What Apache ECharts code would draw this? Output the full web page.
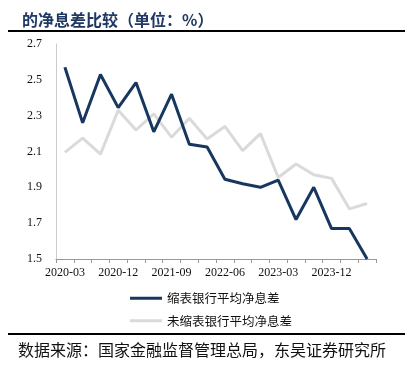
<!DOCTYPE html>
<html><head><meta charset="utf-8">
<script src="https://cdn.jsdelivr.net/npm/echarts@6/dist/echarts.min.js"></script>
<style>html,body{margin:0;padding:0;background:#fff}#c{width:410px;height:376px}</style>
</head><body><div id="c"></div>
<script>
const categories = ['2020-03','2020-06','2020-09','2020-12','2021-03','2021-06','2021-09','2021-12','2022-03','2022-06','2022-09','2022-12','2023-03','2023-06','2023-09','2023-12','2024-03','2024-06'];
const shrinkNIM = [2.57,2.26,2.53,2.345,2.485,2.21,2.42,2.14,2.125,1.945,1.92,1.90,1.94,1.72,1.90,1.67,1.67,1.50];
const nonShrinkNIM = [2.095,2.175,2.085,2.33,2.22,2.31,2.18,2.285,2.17,2.24,2.105,2.20,1.955,2.03,1.97,1.95,1.78,1.81];
const seriesNames = ['缩表银行平均净息差','未缩表银行平均净息差'];
const yTicks = {min:1.5,max:2.7,interval:0.2};

const chart = echarts.init(document.getElementById('c'));
const serif = '"Liberation Serif","DejaVu Serif",serif';
chart.setOption({
  animation:false,
  title:{text:'的净息差比较（单位：%）',left:17,top:7,textStyle:{fontSize:16,fontWeight:'bold',color:'#1f3864',fontFamily:'"Noto Sans CJK SC"'}},
  graphic:[
    {type:'line',shape:{x1:8,y1:31,x2:405,y2:31},style:{stroke:'#000',lineWidth:2}},
    {type:'line',shape:{x1:8,y1:334,x2:405,y2:334},style:{stroke:'#000',lineWidth:2}},
    {type:'text',left:18,top:342,style:{text:'数据来源：国家金融监督管理总局，东吴证券研究所',fontSize:16,fill:'#111',fontFamily:'"Noto Sans CJK SC"'}}
  ],
  grid:{left:56,right:34,top:44,bottom:117},
  legend:{orient:'vertical',left:125,top:287,itemGap:10,itemWidth:32,itemHeight:3,icon:'rect',
    textStyle:{fontSize:12.5,color:'#111',fontFamily:'"Noto Sans CJK SC"'},data:seriesNames},
  xAxis:{type:'category',data:categories,boundaryGap:true,
    axisLine:{lineStyle:{color:'#999',width:1}},
    axisTick:{show:true,interval:0,length:4,lineStyle:{color:'#999'}},
    axisLabel:{interval:2,color:'#111',fontSize:12,fontFamily:serif,margin:8}},
  yAxis:{type:'value',min:yTicks.min,max:yTicks.max,interval:yTicks.interval,
    axisLine:{show:true,lineStyle:{color:'#ccc',width:1}},axisTick:{show:false},splitLine:{show:false},
    axisLabel:{color:'#111',fontSize:12,fontFamily:serif,margin:14,formatter:v=>v.toFixed(1)}},
  series:[
    {name:seriesNames[0],type:'line',data:shrinkNIM,symbol:'none',lineStyle:{width:3,color:'#17375e'},itemStyle:{color:'#17375e'},z:3},
    {name:seriesNames[1],type:'line',data:nonShrinkNIM,symbol:'none',lineStyle:{width:3,color:'#dadada'},itemStyle:{color:'#dadada'},z:2}
  ]
});
</script></body></html>
